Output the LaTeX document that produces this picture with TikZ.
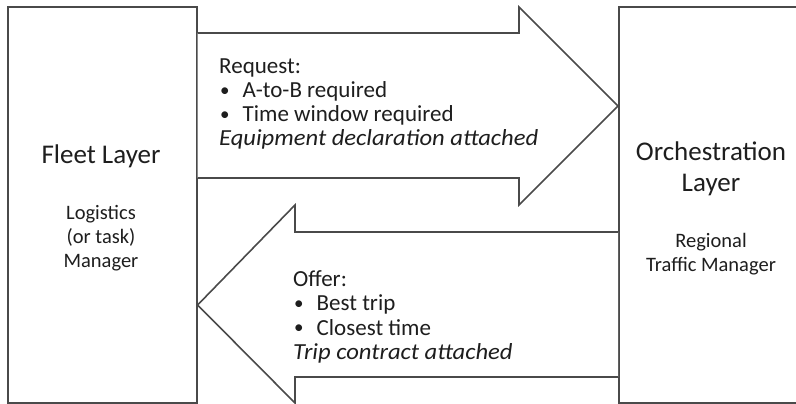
\documentclass[tikz,border=0pt]{standalone}
\usepackage{fontspec}
\setmainfont{Carlito}
\newfontfamily\attachfont[FakeStretch=1.07]{Carlito}
\usetikzlibrary{positioning,calc}
\definecolor{linegrey}{HTML}{4A4A4A}
\definecolor{textgrey}{HTML}{1E1E1E}
\newcommand*{\MsgItem}[1]{\makebox[23.5pt][l]{\hspace{1pt}\raisebox{1.3pt}{\fontsize{19}{19}\selectfont\textbullet}}#1}
\newcommand*{\MsgNote}[1]{{\attachfont\itshape #1}}

\begin{document}
\begin{tikzpicture}[x=1pt,y=-1pt,
  layerbox/.style={draw=linegrey,line width=1.6pt,minimum width=189pt,minimum height=396pt,anchor=north west,inner sep=0pt},
  bigarrow/.style={draw=linegrey,line width=1.6pt,fill=white,line join=miter},
  titletext/.style={inner sep=0pt,text=textgrey,align=center,font=\fontsize{27}{31}\selectfont},
  roletext/.style={inner sep=0pt,text=textgrey,align=center,font=\fontsize{20.5}{24}\selectfont},
  msgtext/.style={inner sep=0pt,text=textgrey,align=left,anchor=west,font=\fontsize{23}{24.2}\selectfont}]
\clip (0,0) rectangle (796,404);
\fill[white] (0,0) rectangle (796,404);
% the two layers
\node[layerbox] (fleet) at (7,6) {};
\node[layerbox] (orch) at (618,6) {};
\coordinate (reqtip) at ($(orch.north west)+(0,100)$);
\coordinate (offtip) at ($(fleet.north east)+(0,299)$);
% request going right
\draw[bigarrow] (fleet.east |- 0,33) -- (519,33) -- (519,7) -- (reqtip) -- (519,205) -- (519,178) -- (fleet.east |- 0,178);
% offer coming back
\draw[bigarrow] (orch.west |- 0,232) -- (295,232) -- (295,205) -- (offtip) -- (295,403) -- (295,377) -- (orch.west |- 0,377);
\node[titletext] (fleettitle) at (101,156) {Fleet Layer};
\node[roletext] (fleetrole) at (101,238) {Logistics\\(or task)\\Manager};
\node[titletext] (orchtitle) at (711,169) {Orchestration\\Layer};
\node[roletext] (orchrole) at (711,254) {Regional\\Traffic Manager};
\node[msgtext] (reqtext) at (219,104) {Request:\\\MsgItem{A-to-B required}\\\MsgItem{Time window required}\\\MsgNote{Equipment declaration attached}};
\node[msgtext] (offtext) at (293,317) {Offer:\\\MsgItem{Best trip}\\\MsgItem{Closest time}\\\MsgNote{Trip contract attached}};
\end{tikzpicture}
\end{document}
